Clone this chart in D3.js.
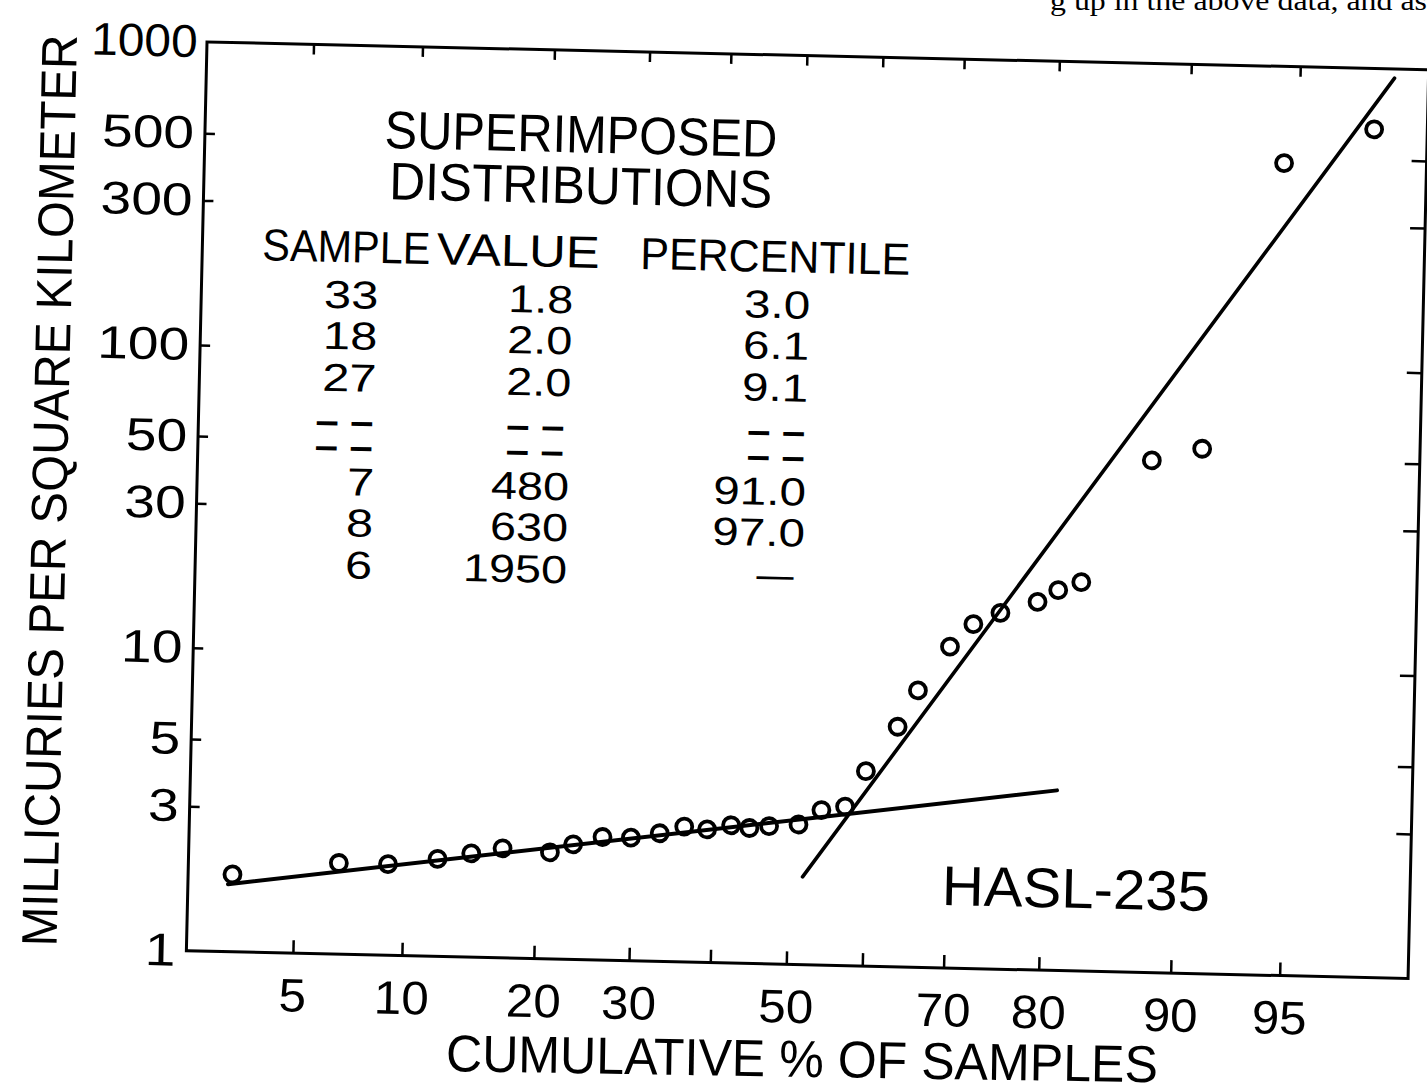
<!DOCTYPE html>
<html>
<head>
<meta charset="utf-8">
<script src="https://cdn.jsdelivr.net/npm/d3@7"></script>
<style>
  html, body { margin: 0; padding: 0; background: #fff; }
  svg { display: block; }
  text { font-family: "Liberation Sans", Arial, sans-serif; fill: #000; }
</style>
</head>
<body>
<svg id="chart" width="1427" height="1090"></svg>
<script>
// ---- data -------------------------------------------------------------
// cumulative plotting position of each ranked sample (%)
const percentiles = [3.2, 6.7, 9.1, 12.1, 14.5, 17.0, 21.3, 23.6, 26.7, 29.9,
                     33.3, 36.3, 39.2, 42.3, 44.7, 47.3, 51.2, 54.2, 57.3, 59.9,
                     63.8, 66.2, 69.9, 72.5, 75.4, 79.1, 81.0, 83.0, 88.1, 91.1,
                     94.5, 97.1];
// deposition, millicuries per square kilometer
const values = [1.8, 2.0, 2.0, 2.1, 2.2, 2.3, 2.25, 2.4, 2.55, 2.55,
                2.65, 2.8, 2.75, 2.85, 2.8, 2.85, 2.9, 3.25, 3.35, 4.4,
                6.2, 8.2, 11.5, 13.7, 15.0, 16.4, 18.0, 19.2, 49, 54,
                480, 630];

// straight-line fits of the two superimposed log-normal populations
const lowerFitPct = [3.1, 81.3];
const lowerFitVal = [1.67, 3.93];
const upperFitPct = [51.9, 97.5];
const upperFitVal = [1.95, 933];

const xTickValues = [5, 10, 20, 30, 40, 50, 60, 70, 80, 90, 95];
const xTickLabels = ["5", "10", "20", "30", "", "50", "", "70", "80", "90", "95"];
const yTickValues = [1, 3, 5, 10, 30, 50, 100, 300, 500, 1000];
const yTickLabels = ["1", "3", "5", "10", "30", "50", "100", "300", "500", "1000"];

const tableHeader = ["SAMPLE", "VALUE", "PERCENTILE"];
const tableSample = ["33", "18", "27", "7", "8", "6"];
const tableValue = ["1.8", "2.0", "2.0", "480", "630", "1950"];
const tablePercentile = ["3.0", "6.1", "9.1", "91.0", "97.0", "\u2014"];

// ---- helpers ----------------------------------------------------------
// inverse of the standard normal CDF (Acklam's rational approximation)
function probit(p) {
  const a = [-3.969683028665376e+01, 2.209460984245205e+02, -2.759285104469687e+02,
             1.383577518672690e+02, -3.066479806614716e+01, 2.506628277459239e+00];
  const b = [-5.447609879822406e+01, 1.615858368580409e+02, -1.556989798598866e+02,
             6.680131188771972e+01, -1.328068155288572e+01];
  const c = [-7.784894002430293e-03, -3.223964580411365e-01, -2.400758277161838e+00,
             -2.549732539343734e+00, 4.374664141464968e+00, 2.938163982698783e+00];
  const d = [7.784695709041462e-03, 3.224671290700398e-01, 2.445134137142996e+00,
             3.754408661907416e+00];
  const pl = 0.02425, ph = 1 - pl;
  let q, r;
  if (p < pl) {
    q = Math.sqrt(-2 * Math.log(p));
    return (((((c[0]*q+c[1])*q+c[2])*q+c[3])*q+c[4])*q+c[5]) /
           ((((d[0]*q+d[1])*q+d[2])*q+d[3])*q+1);
  }
  if (p <= ph) {
    q = p - 0.5; r = q * q;
    return (((((a[0]*r+a[1])*r+a[2])*r+a[3])*r+a[4])*r+a[5])*q /
           (((((b[0]*r+b[1])*r+b[2])*r+b[3])*r+b[4])*r+1);
  }
  q = Math.sqrt(-2 * Math.log(1 - p));
  return -(((((c[0]*q+c[1])*q+c[2])*q+c[3])*q+c[4])*q+c[5]) /
          ((((d[0]*q+d[1])*q+d[2])*q+d[3])*q+1);
}

// ---- layout -----------------------------------------------------------
const W = 1222, H = 909;
const INK = "#000";
const svg = d3.select("#chart");

// the whole figure sits slightly tilted on the page
const g = svg.append("g").attr("transform", "translate(207,42) rotate(1.3)");

// probability (normal-quantile) axis and logarithmic value axis
const zScale = d3.scaleLinear().domain([-2.0, 2.073]).range([0, W]);
const x = p => zScale(probit(p / 100));
const y = d3.scaleLog().domain([1, 1000]).range([H, 0]);

function styleAxis(sel, tickWidth) {
  sel.select(".domain").remove();
  sel.selectAll(".tick line").attr("stroke", INK).attr("stroke-width", tickWidth);
}

// bottom axis with inward ticks and labels
const xAxisB = g.append("g").attr("transform", `translate(0,${H})`)
  .call(d3.axisBottom(zScale)
    .tickValues(xTickValues.map(p => probit(p / 100)))
    .tickSize(-13).tickPadding(25)
    .tickFormat((d, i) => xTickLabels[i]));
styleAxis(xAxisB, 2.5);
xAxisB.selectAll(".tick text")
  .attr("font-size", 47).attr("fill", INK)
  .attr("transform", "scale(1.05,1)");

// top axis: ticks only
const xAxisT = g.append("g")
  .call(d3.axisTop(zScale)
    .tickValues(xTickValues.map(p => probit(p / 100)))
    .tickSize(-10).tickFormat(""));
styleAxis(xAxisT, 2.5);

// left axis with inward ticks and labels
const yAxisL = g.append("g")
  .call(d3.axisLeft(y).tickValues(yTickValues).tickSize(-10).tickPadding(9)
    .tickFormat((d, i) => yTickLabels[i]));
styleAxis(yAxisL, 2.5);
yAxisL.selectAll(".tick line").filter(d => d === 1 || d === 1000).remove();
yAxisL.selectAll(".tick text")
  .attr("font-size", 46).attr("fill", INK)
  .attr("transform", d => `scale(${d === 1000 ? 1.04 : 1.2},1)`);

// right axis: ticks only
const yAxisR = g.append("g").attr("transform", `translate(${W},0)`)
  .call(d3.axisRight(y).tickValues(yTickValues.filter(v => v > 1 && v < 1000))
    .tickSize(-15).tickFormat(""));
styleAxis(yAxisR, 2.5);

// plot frame
g.append("rect").attr("width", W).attr("height", H)
  .attr("fill", "none").attr("stroke", INK).attr("stroke-width", 3);

// fitted lines
const line = d3.line().x(d => x(d[0])).y(d => y(d[1]));
g.append("path").datum(d3.zip(lowerFitPct, lowerFitVal))
  .attr("d", line).attr("fill", "none").attr("stroke", INK)
  .attr("stroke-width", 4).attr("stroke-linecap", "round");
g.append("path").datum(d3.zip(upperFitPct, upperFitVal))
  .attr("d", line).attr("fill", "none").attr("stroke", INK)
  .attr("stroke-width", 3.6).attr("stroke-linecap", "round");

// sample points
g.append("g").selectAll("circle")
  .data(d3.zip(percentiles, values))
  .join("circle")
  .attr("cx", d => x(d[0])).attr("cy", d => y(d[1]))
  .attr("r", 8).attr("fill", "none")
  .attr("stroke", INK).attr("stroke-width", 3.8);

// ---- annotation text --------------------------------------------------
function label(parent, u, v, str, size, opts = {}) {
  const sx = opts.sx || 1;
  const t = parent.append("text")
    .attr("transform", `translate(${u},${v})${opts.rot ? ` rotate(${opts.rot})` : ""} scale(${sx},1)`)
    .attr("text-anchor", opts.anchor || "middle")
    .attr("font-size", size)
    .text(str);
  if (opts.len) t.attr("textLength", opts.len / sx).attr("lengthAdjust", "spacingAndGlyphs");
  if (opts.weight) t.attr("font-weight", opts.weight);
  return t;
}

// axis titles
label(g, -130, 452, "MILLICURIES PER SQUARE KILOMETER", 50, { rot: -90, len: 912 });
label(g, 618, 1021, "CUMULATIVE % OF SAMPLES", 52, { rot: -0.4, len: 712 });

// superimposed-distribution table
label(g, 376, 102, "SUPERIMPOSED", 53, { len: 393 });
label(g, 377, 153, "DISTRIBUTIONS", 53, { len: 383 });
const headerU = [144, 316, 573], headerLen = [168, 163, 270];
tableHeader.forEach((h, i) => label(g, headerU[i], 217, h, 45, { len: headerLen[i] }));

const rowV = [263, 304, 346, 450, 491, 533];       // baselines of the data rows
const colU = [177, 372, 609];                      // right edges of the columns
tableSample.forEach((s, i) => label(g, colU[0], rowV[i], s, 39, { anchor: "end", sx: 1.25 }));
tableValue.forEach((s, i) => label(g, colU[1], rowV[i], s, 39, { anchor: "end", sx: 1.2 }));
tablePercentile.forEach((s, i) => {
  if (s === "\u2014") label(g, 580, rowV[i], s, 39, { sx: 0.95 });
  else label(g, colU[2], rowV[i], s, 39, { anchor: "end", sx: 1.22 });
});
// elided rows
const dashU = [175, 366, 607];
[389, 414].forEach(v => dashU.forEach(u =>
  label(g, u, v, "\u2013 \u2013", 39, { anchor: "end", len: 58, weight: "bold" })));

// station label
label(g, 888, 846, "HASL-235", 56, { len: 268 });

// running text of the page above the figure
svg.append("text").attr("x", 1427).attr("y", 10)
  .attr("text-anchor", "end")
  .attr("textLength", 377).attr("lengthAdjust", "spacingAndGlyphs")
  .style("font-family", "'Liberation Serif', serif")
  .attr("font-size", 28)
  .text("g up in the above data, and as");
</script>
</body>
</html>
